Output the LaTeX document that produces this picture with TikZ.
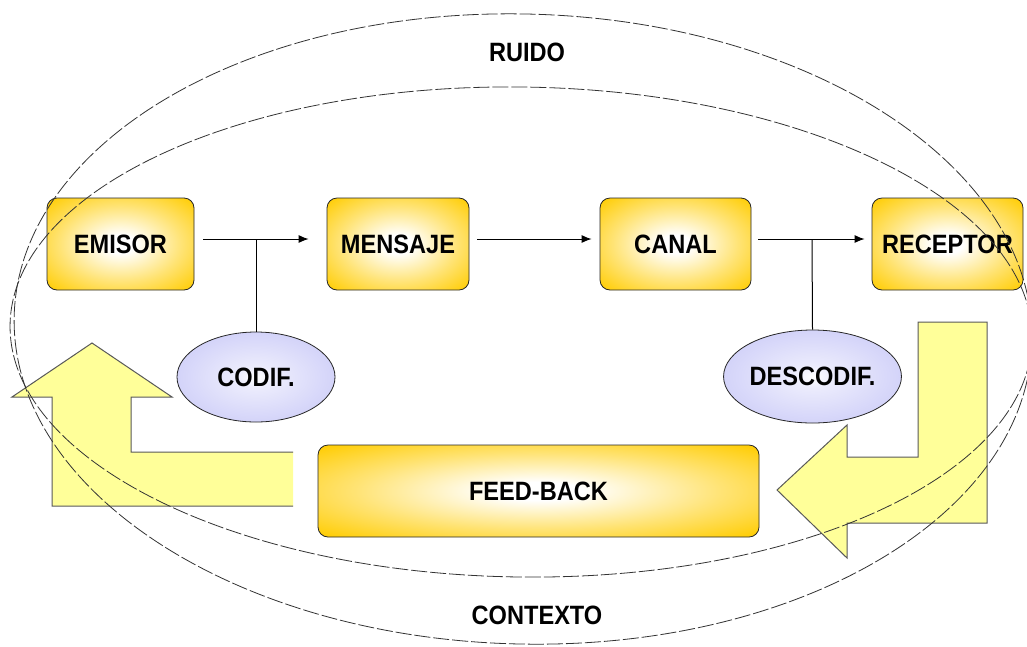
\documentclass[tikz,border=0pt]{standalone}
\usepackage{fontspec}
\setmainfont{Liberation Sans}[FakeStretch=0.89]
\usetikzlibrary{arrows.meta,shapes.geometric}
\definecolor{goldc}{RGB}{255,204,0}
\definecolor{lav}{RGB}{190,190,246}
\definecolor{lyel}{RGB}{255,255,153}
\pgfdeclareradialshading{goldglow}{\pgfpointorigin}{color(0bp)=(white); color(5bp)=(white); color(21bp)=(goldc!55); color(35bp)=(goldc); color(50bp)=(goldc)}
\pgfdeclareradialshading{lavglow}{\pgfpointorigin}{color(0bp)=(white); color(6bp)=(white!70!lav); color(34bp)=(lav!85); color(50bp)=(lav)}
\tikzset{
  lbl/.style={font=\fontsize{26.5}{28}\selectfont\bfseries, text=black},
  box/.style={lbl, rectangle, rounded corners=10pt, draw=black!85, line width=0.8pt, shading=goldglow, inner sep=0pt},
  oval/.style={lbl, ellipse, draw=black!85, line width=0.8pt, shading=lavglow, inner sep=0pt},
  conn/.style={draw=black, line width=1pt, -{Latex[length=10pt,width=8pt]}},
  stub/.style={draw=black, line width=1pt},
  yarrow/.style={fill=lyel, draw=black!65, line width=1pt, line join=miter},
  ring/.style={draw=black!80, line width=0.8pt, dash pattern=on 16pt off 3pt}
}
\begin{document}
\begin{tikzpicture}[x=1pt,y=-1pt]
\useasboundingbox (0,0) rectangle (1027,646);
\clip (0,0) rectangle (1027,646);
\fill[white] (0,0) rectangle (1027,646);
% yellow feedback arrows
\fill[lyel] (92,343) -- (172,397) -- (131,397) -- (131,452) -- (293,452) -- (293,506) -- (52,506) -- (52,397) -- (12,397) -- cycle;
\draw[yarrow, fill=none] (293,452) -- (131,452) -- (131,397) -- (172,397) -- (92,343) -- (12,397) -- (52,397) -- (52,506) -- (293,506);
\draw[yarrow] (918,322) -- (987,322) -- (987,523) -- (847,523) -- (847,558) -- (777,490) -- (847,425) -- (847,457) -- (918,457) -- cycle;
% boxes
\node[box, minimum width=147pt, minimum height=92pt] (emisor) at (120.5,244) {EMISOR};
\node[box, minimum width=142pt, minimum height=92pt] (mensaje) at (398,244) {MENSAJE};
\node[box, minimum width=151pt, minimum height=92pt] (canal) at (675.5,244) {CANAL};
\node[box, minimum width=151pt, minimum height=92pt] (receptor) at (947.5,244) {RECEPTOR};
\node[box, minimum width=441pt, minimum height=92pt] (feedback) at (538.5,491) {FEED-BACK};
\node[oval, minimum width=158pt, minimum height=90pt] (codif) at (256,377) {CODIF.};
\node[oval, minimum width=161pt, minimum height=93pt] (descodif) at (812.5,376.5) {DESCODIF.};
% connectors
\coordinate (j1) at (256,239);
\coordinate (j2) at (812,239);
\draw[conn] ([xshift=9pt,yshift=5pt]emisor.east) -- ([xshift=-18pt,yshift=5pt]mensaje.west);
\draw[stub] (j1) -- (codif.north);
\draw[conn] ([xshift=8pt,yshift=5pt]mensaje.east) -- ([xshift=-8pt,yshift=5pt]canal.west);
\draw[conn] ([xshift=7pt,yshift=5pt]canal.east) -- ([xshift=-7pt,yshift=5pt]receptor.west);
\draw[stub] (j2) -- (descodif.north);
% context / noise rings
\draw[ring, rotate around={-1.5:(523,329)}] (523,329) ellipse [x radius=509, y radius=315];
\draw[ring, rotate around={-0.8:(521,332)}] (521,332) ellipse [x radius=511, y radius=245];
\node[lbl] (ruido) at (527,52) {RUIDO};
\node[lbl] (contexto) at (537,615) {CONTEXTO};
\end{tikzpicture}
\end{document}
